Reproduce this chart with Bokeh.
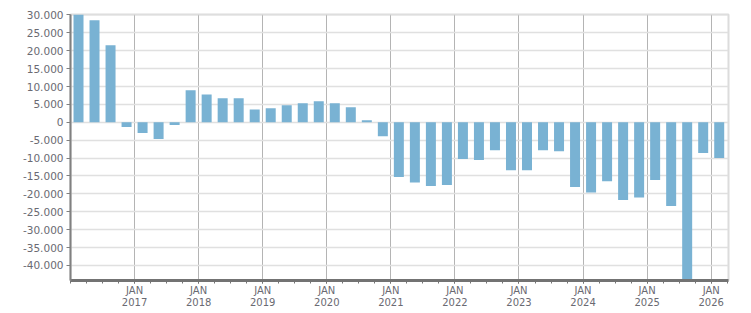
from bokeh.plotting import figure
from bokeh.models import FixedTicker, ColumnDataSource
from bokeh.embed import file_html
from bokeh.resources import INLINE

# Quarterly values, 2016 Q1 .. 2026 Q1
years = [2016]*4 + [2017]*4 + [2018]*4 + [2019]*4 + [2020]*4 + [2021]*4 + \
        [2022]*4 + [2023]*4 + [2024]*4 + [2025]*4 + [2026]
quarters = [1, 2, 3, 4]*10 + [1]
values = [
    30800, 28500, 21500, -1300,
    -3000, -4650, -750, 8950,
    7800, 6700, 6700, 3600,
    3900, 4750, 5300, 5870,
    5300, 4200, 560, -3900,
    -15300, -16800, -17800, -17500,
    -10250, -10500, -7800, -13400,
    -13400, -7800, -8100, -18100,
    -19600, -16500, -21700, -21000,
    -16100, -23400, -45500, -8600,
    -10000,
]
tick_years = list(range(2017, 2027))
y_ticks = list(range(-40000, 30001, 5000))

x_pos = [y + (q - 1) / 4 + 0.125 for y, q in zip(years, quarters)]
src = ColumnDataSource(dict(x=x_pos, v=values))

p = figure(width=751, height=313, x_range=(2016.0, 2026.27), y_range=(-44200, 30120),
           output_backend="svg", toolbar_location=None,
           min_border_left=70, min_border_right=23, min_border_top=14, min_border_bottom=33)
p.background_fill_color = "white"
p.border_fill_color = "white"
p.outline_line_color = "#dcdcdc"
p.outline_line_width = 2

p.vbar(x="x", top="v", bottom=0, width=0.156, source=src,
       fill_color="#79b2d3", line_color=None)

FONT = "DejaVu Sans"
TXT = "#6a6a72"

# y axis
ya = p.yaxis[0]
ya.ticker = FixedTicker(ticks=y_ticks)
ya.major_label_overrides = {t: f"{t:,}".replace(",", ".") for t in y_ticks}
ya.axis_line_color = "#808080"
ya.axis_line_width = 2
ya.major_tick_out = 4
ya.major_tick_in = 0
ya.major_tick_line_color = "#808080"
ya.minor_tick_line_color = None
ya.major_label_text_font = FONT
ya.major_label_text_font_size = "10.5px"
ya.major_label_text_color = TXT
ya.major_label_standoff = 3

# x axis
xa = p.xaxis[0]
minor = [y + q / 4 for y in range(2016, 2027) for q in range(4)]
xa.ticker = FixedTicker(ticks=tick_years, minor_ticks=minor)
xa.major_label_overrides = {t: f"JAN\n{t}" for t in tick_years}
xa.axis_line_color = "#737373"
xa.axis_line_width = 3
xa.major_tick_out = 3
xa.major_tick_in = 0
xa.minor_tick_out = 3
xa.minor_tick_in = 0
xa.major_tick_line_color = "#737373"
xa.minor_tick_line_color = "#737373"
xa.major_label_text_font = FONT
xa.major_label_text_font_size = "10px"
xa.major_label_text_line_height = 1.1
xa.major_label_text_color = TXT
xa.major_label_standoff = 1

p.xgrid.grid_line_color = "#b4b4b4"
p.xgrid.grid_line_width = 1
p.ygrid.grid_line_color = "#e0e0e0"
p.ygrid.grid_line_width = 1.5

open("out.html", "w").write(file_html(p, INLINE))
